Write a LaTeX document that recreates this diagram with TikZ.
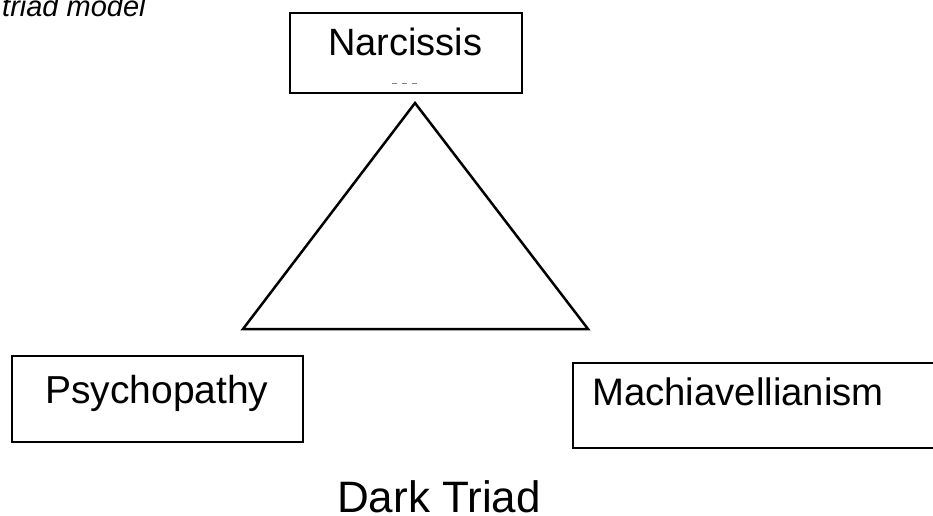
\documentclass[tikz,border=0pt]{standalone}
\usepackage{fontspec}
\setmainfont{Liberation Sans}
\begin{document}
\begin{tikzpicture}[x=1pt,y=-1pt,
  boxstyle/.style={draw=black, line width=2.5pt, fill=none, inner sep=0pt},
  lbl/.style={inner sep=0pt, anchor=base west, text=black}]
\useasboundingbox (0,0) rectangle (933,515);
\clip (0,0) rectangle (933,515);
% title fragment
\node[lbl, font=\fontsize{29}{32}\selectfont\itshape] (title) at (2,16) {triad model};
% boxes
\node[boxstyle, minimum width=232pt, minimum height=80pt] (narcbox) at (406,53) {};
\node[lbl, font=\fontsize{38}{41}\selectfont] (narc) at (328,55) {Narcissis};
\node[boxstyle, minimum width=291pt, minimum height=86pt] (psybox) at (157.5,399) {};
\node[lbl, font=\fontsize{39}{42}\selectfont] (psy) at (45,403) {Psychopathy};
\node[boxstyle, minimum width=377pt, minimum height=85pt] (machbox) at (761.5,405.5) {};
\node[lbl, font=\fontsize{38.3}{41}\selectfont] (mach) at (592,405) {Machiavellianism};
% small dashes
\draw[gray, line width=1pt, dash pattern=on 5pt off 5pt] (392,83) -- (418,83);
% triangle
\coordinate (apex) at (415,103);
\coordinate (bl) at (243,329);
\coordinate (br) at (588,329);
\draw[line width=2.5pt, line join=miter] (apex) -- (bl) -- (br) -- cycle;
% caption
\node[lbl, font=\fontsize{44}{48}\selectfont] (dark) at (337,512) {Dark Triad};
\end{tikzpicture}
\end{document}
